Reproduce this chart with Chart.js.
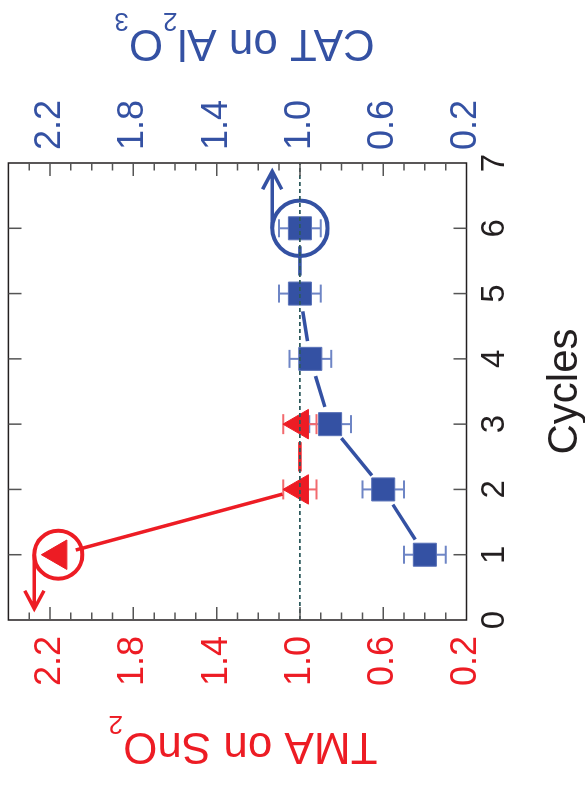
<!DOCTYPE html>
<html>
<head>
<meta charset="utf-8">
<script src="https://cdn.jsdelivr.net/npm/chart.js@4.4.1/dist/chart.umd.min.js"></script>
<style>
html, body { margin: 0; padding: 0; background: #fff; overflow: hidden; }
/* the figure is printed turned a quarter turn, so draw it upright and rotate */
#wrap { position: absolute; left: 0; top: 0; width: 786px; height: 585px;
        transform-origin: 0 0; transform: rotate(-90deg) translate(-786px, 0); }
</style>
</head>
<body>
<div id="wrap"><canvas id="chart" width="786" height="585"></canvas></div>
<script>
const tmaCycles = [1, 2, 3];
const tmaValues = [2.16, 1.0, 1.0];
const tmaErrors = [0, 0.08, 0.08];

const catCycles = [1, 2, 3, 4, 5, 6];
const catValues = [0.40, 0.60, 0.855, 0.95, 1.0, 1.0];
const catErrors = [0.10, 0.10, 0.10, 0.10, 0.10, 0.10];

const valueTicks = [0.2, 0.6, 1.0, 1.4, 1.8, 2.2];
const minorTicks = [0.3, 0.4, 0.5, 0.7, 0.8, 0.9, 1.1, 1.2, 1.3, 1.5, 1.6, 1.7, 1.9, 2.0, 2.1, 2.3];
const cycleTicks = [1, 2, 3, 4, 5, 6];

const RED = '#ed1c24';
const BLUE = '#3451a3';
const INK = '#231f20';
const FONT = "'Liberation Sans', Arial, sans-serif";

Chart.defaults.font.family = FONT;

function drawErrors(chart, index, errors, color, cap) {
    const ctx = chart.ctx;
    const meta = chart.getDatasetMeta(index);
    const yScale = chart.scales[chart.data.datasets[index].yAxisID];
    const values = chart.data.datasets[index].data;
    ctx.save();
    ctx.strokeStyle = color;
    ctx.lineWidth = 2;
    meta.data.forEach((pt, i) => {
        const e = errors[i];
        if (!e) return;
        const y1 = yScale.getPixelForValue(values[i].y - e);
        const y2 = yScale.getPixelForValue(values[i].y + e);
        ctx.beginPath();
        ctx.moveTo(pt.x, y1);
        ctx.lineTo(pt.x, y2);
        ctx.moveTo(pt.x - cap, y1);
        ctx.lineTo(pt.x + cap, y1);
        ctx.moveTo(pt.x - cap, y2);
        ctx.lineTo(pt.x + cap, y2);
        ctx.stroke();
    });
    ctx.restore();
}

// connecting line that stops short of each marker
function drawGapLine(chart, index, color, gap) {
    const ctx = chart.ctx;
    const pts = chart.getDatasetMeta(index).data;
    ctx.save();
    ctx.strokeStyle = color;
    ctx.lineWidth = 3.5;
    for (let i = 0; i < pts.length - 1; i++) {
        const p = pts[i], q = pts[i + 1];
        const dx = q.x - p.x, dy = q.y - p.y;
        const len = Math.sqrt(dx * dx + dy * dy);
        if (len <= 2 * gap) continue;
        const ux = dx / len, uy = dy / len;
        ctx.beginPath();
        ctx.moveTo(p.x + ux * gap, p.y + uy * gap);
        ctx.lineTo(q.x - ux * gap, q.y - uy * gap);
        ctx.stroke();
    }
    ctx.restore();
}

function circleArrow(chart, index, pointIndex, r, dir, len, color) {
    const ctx = chart.ctx;
    const p = chart.getDatasetMeta(index).data[pointIndex];
    const sy = p.y - r;
    const tx = p.x + dir * len;
    ctx.save();
    ctx.strokeStyle = color;
    ctx.lineWidth = 4;
    ctx.beginPath();
    ctx.arc(p.x, p.y, r, 0, Math.PI * 2);
    ctx.stroke();
    ctx.lineWidth = 3.5;
    ctx.beginPath();
    ctx.moveTo(p.x, sy);
    ctx.lineTo(tx, sy);
    ctx.moveTo(tx - dir * 18, sy - 9.6);
    ctx.lineTo(tx, sy);
    ctx.lineTo(tx - dir * 18, sy + 9.6);
    ctx.stroke();
    ctx.restore();
}

// axis title read bottom to top, with subscripts
function sideTitle(ctx, pieces, baseX, centerY, color) {
    ctx.save();
    ctx.fillStyle = color;
    ctx.textBaseline = 'alphabetic';
    ctx.textAlign = 'left';
    let total = 0;
    pieces.forEach(pc => {
        ctx.font = (pc.sub ? 26 : 44) + 'px ' + FONT;
        pc.w = ctx.measureText(pc.t).width;
        total += pc.w;
    });
    ctx.translate(baseX, centerY);
    ctx.rotate(-Math.PI / 2);
    let x = -total / 2;
    pieces.forEach(pc => {
        ctx.font = (pc.sub ? 26 : 44) + 'px ' + FONT;
        ctx.fillText(pc.t, x, pc.sub ? 17 : 0);
        x += pc.w;
    });
    ctx.restore();
}

const decor = {
    id: 'decor',
    beforeDatasetsDraw(chart) {
        drawErrors(chart, 1, catErrors, '#6e85c5', 9);
        drawErrors(chart, 0, tmaErrors, '#f26a6e', 10);
        drawGapLine(chart, 1, BLUE, 18);
        drawGapLine(chart, 0, RED, 18);
    },
    afterDatasetsDraw(chart) {
        const {ctx, chartArea: a, scales} = chart;

        circleArrow(chart, 1, 5, 27.7, 1, 57, BLUE);
        circleArrow(chart, 0, 0, 24, -1, 54, RED);

        // reference line at 1.0
        const yRef = scales.y.getPixelForValue(1.0);
        ctx.save();
        ctx.strokeStyle = '#2d5a5c';
        ctx.lineWidth = 1.6;
        ctx.setLineDash([4, 3]);
        ctx.beginPath();
        ctx.moveTo(a.left, yRef);
        ctx.lineTo(a.right, yRef);
        ctx.stroke();
        ctx.restore();

        // frame and inward ticks
        ctx.save();
        ctx.strokeStyle = INK;
        ctx.lineWidth = 1.5;
        ctx.strokeRect(a.left, a.top, a.right - a.left, a.bottom - a.top);
        ctx.strokeStyle = '#555';
        ctx.beginPath();
        cycleTicks.forEach(c => {
            const x = scales.x.getPixelForValue(c);
            ctx.moveTo(x, a.bottom); ctx.lineTo(x, a.bottom - 13);
            ctx.moveTo(x, a.top); ctx.lineTo(x, a.top + 13);
        });
        valueTicks.concat(minorTicks).forEach(v => {
            if (v <= 0.2) return;
            const l = valueTicks.includes(v) ? 13 : 7.5;
            const y = scales.y.getPixelForValue(v);
            ctx.moveTo(a.left, y); ctx.lineTo(a.left + l, y);
            ctx.moveTo(a.right, y); ctx.lineTo(a.right - l, y);
        });
        ctx.stroke();
        ctx.restore();

        // titles
        ctx.save();
        ctx.fillStyle = INK;
        ctx.font = '42px ' + FONT;
        ctx.textAlign = 'center';
        ctx.textBaseline = 'alphabetic';
        ctx.fillText('Cycles', (a.left + a.right) / 2, a.bottom + 110);
        ctx.restore();

        sideTitle(ctx, [{t: 'TMA on SnO'}, {t: '2', sub: true}], a.left - 113, 243, RED);
        sideTitle(ctx, [{t: 'CAT on Al'}, {t: '2', sub: true}, {t: 'O'}, {t: '3', sub: true}],
            a.right + 133, 244.5, BLUE);
    }
};

const ctx = document.getElementById('chart').getContext('2d');

new Chart(ctx, {
    type: 'line',
    data: {
        datasets: [{
            label: 'TMA on SnO2',
            data: tmaCycles.map((c, i) => ({x: c, y: tmaValues[i]})),
            yAxisID: 'y',
            showLine: false,
            pointStyle: 'triangle',
            pointRadius: 17,
            pointBackgroundColor: RED,
            pointBorderColor: RED,
            pointBorderWidth: 1
        }, {
            label: 'CAT on Al2O3',
            data: catCycles.map((c, i) => ({x: c, y: catValues[i]})),
            yAxisID: 'y2',
            showLine: false,
            pointStyle: 'rect',
            pointRadius: 16.3,
            pointBackgroundColor: BLUE,
            pointBorderColor: '#5a72b8',
            pointBorderWidth: 1
        }]
    },
    options: {
        responsive: false,
        animation: false,
        events: [],
        layout: {padding: {top: 8.4}, autoPadding: false},
        plugins: {legend: {display: false}, tooltip: {enabled: false}},
        scales: {
            x: {
                type: 'linear', position: 'bottom', min: 0, max: 7,
                grid: {display: false, drawTicks: false},
                border: {display: false},
                ticks: {stepSize: 1, color: INK, font: {size: 33}, padding: 9, maxRotation: 0,
                    callback: v => String(v)},
                afterFit(s) { s.height = 118.5; s.paddingLeft = 0; s.paddingRight = 0; }
            },
            y: {
                position: 'left', min: 0.2, max: 2.4,
                afterBuildTicks(s) { s.ticks = valueTicks.map(v => ({value: v})); },
                grid: {display: false, drawTicks: false},
                border: {display: false},
                ticks: {color: RED, font: {size: 36}, padding: 16, callback: v => v.toFixed(1)},
                afterFit(s) { s.width = 166; s.paddingTop = 0; s.paddingBottom = 0; }
            },
            y2: {
                position: 'right', min: 0.2, max: 2.4,
                afterBuildTicks(s) { s.ticks = valueTicks.map(v => ({value: v})); },
                grid: {display: false, drawTicks: false},
                border: {display: false},
                ticks: {color: BLUE, font: {size: 36}, padding: 13, callback: v => v.toFixed(1)},
                afterFit(s) { s.width = 163; s.paddingTop = 0; s.paddingBottom = 0; }
            }
        }
    },
    plugins: [decor]
});
</script>
</body>
</html>
